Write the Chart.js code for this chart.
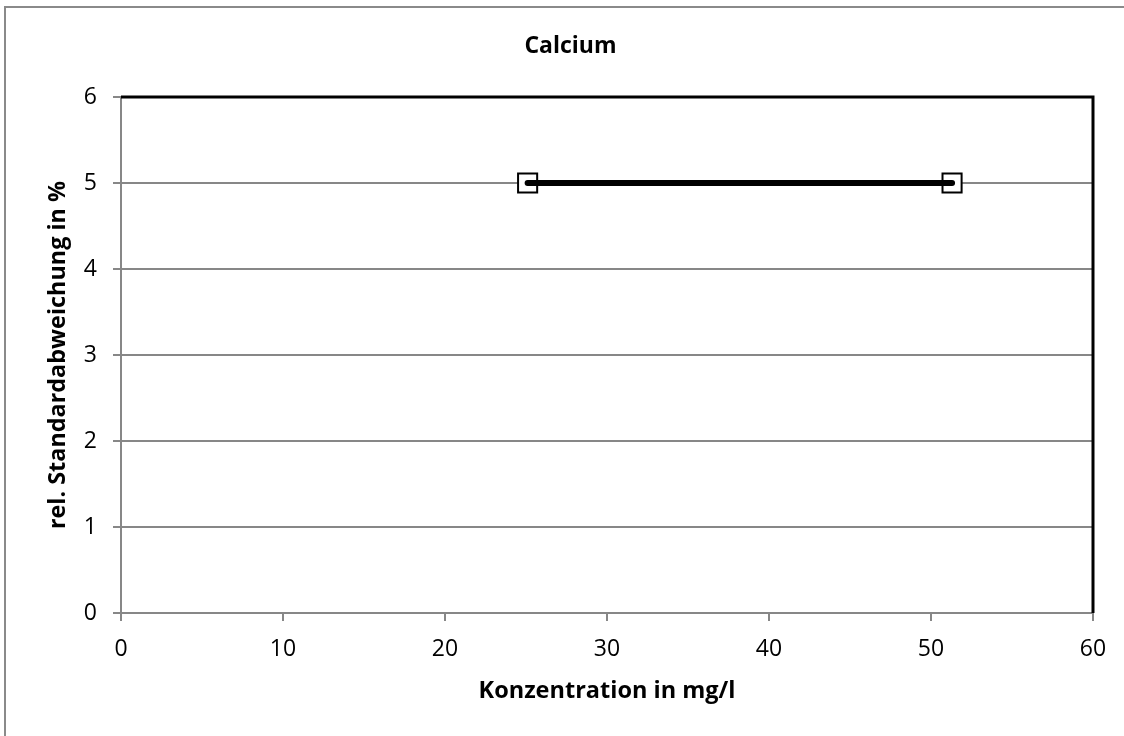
<!DOCTYPE html>
<html>
<head>
<meta charset="utf-8">
<script src="https://cdn.jsdelivr.net/npm/chart.js@4"></script>
<style>
  html, body { margin: 0; padding: 0; background: #fff; }
  #wrap { position: absolute; left: 0; top: 0; width: 1124px; height: 736px; }
</style>
</head>
<body>
<div id="wrap"><canvas id="myChart" width="1124" height="736"></canvas></div>
<script>
// Werte
const konzentration = [25.1, 51.3];
const rsd = [5, 5];
const xTicks = [0, 10, 20, 30, 40, 50, 60];
const yTicks = [0, 1, 2, 3, 4, 5, 6];

const punkte = konzentration.map((x, i) => ({ x: x, y: rsd[i] }));

const fontName = "'Open Sans', sans-serif";

// Rahmen: aussen grau, Diagrammfläche oben/rechts schwarz
const rahmen = {
  id: 'rahmen',
  beforeDraw(chart) {
    const c = chart.ctx;
    c.save();
    c.strokeStyle = '#8a8a8a';
    c.lineWidth = 2;
    c.strokeRect(5, 7, 1130, 740);
    c.restore();
  },
  beforeDatasetsDraw(chart) {
    const c = chart.ctx;
    const a = chart.chartArea;
    c.save();
    c.strokeStyle = '#000';
    c.lineWidth = 3;
    c.beginPath();
    c.moveTo(a.left, a.top);
    c.lineTo(a.right, a.top);
    c.lineTo(a.right, a.bottom);
    c.stroke();
    c.restore();
  }
};

const ctx = document.getElementById('myChart');

new Chart(ctx, {
  type: 'scatter',
  data: {
    datasets: [
      {
        label: 'Linie',
        data: punkte,
        showLine: true,
        borderColor: '#000',
        borderWidth: 6,
        borderCapStyle: 'round',
        pointRadius: 0,
        order: 0
      },
      {
        label: 'Punkte',
        data: punkte,
        showLine: false,
        pointStyle: 'rect',
        pointRadius: 13.5,
        pointBorderWidth: 2,
        pointBorderColor: '#000',
        pointBackgroundColor: '#fff',
        order: 1
      }
    ]
  },
  options: {
    responsive: false,
    animation: false,
    layout: { padding: { top: 0, right: 31, bottom: 0, left: 48 } },
    plugins: {
      legend: { display: false },
      tooltip: { enabled: false },
      title: {
        display: true,
        text: 'Calcium',
        color: '#000',
        font: { family: fontName, size: 23, weight: 'bold' },
        padding: { top: 33, bottom: 36.4 }
      }
    },
    scales: {
      x: {
        type: 'linear',
        min: 0,
        max: 60,
        afterFit(scale) { scale.height = 123; },
        afterBuildTicks(scale) { scale.ticks = xTicks.map(v => ({ value: v })); },
        grid: { display: true, drawOnChartArea: false, color: '#878787', lineWidth: 2, tickLength: 8 },
        border: { display: true, color: '#878787', width: 2 },
        ticks: { color: '#000', font: { family: fontName, size: 23 }, padding: 15, maxRotation: 0 },
        title: {
          display: true,
          text: 'Konzentration in mg/l',
          color: '#000',
          font: { family: fontName, size: 23.5, weight: 'bold' },
          padding: { top: 0, bottom: 31 }
        }
      },
      y: {
        type: 'linear',
        min: 0,
        max: 6,
        afterFit(scale) { scale.width = 73; },
        afterBuildTicks(scale) { scale.ticks = yTicks.map(v => ({ value: v })); },
        grid: { color: '#878787', lineWidth: 2, tickLength: 8 },
        border: { display: true, color: '#878787', width: 2 },
        ticks: { color: '#000', font: { family: fontName, size: 23 }, padding: 16 },
        title: {
          display: true,
          text: 'rel. Standardabweichung in %',
          color: '#000',
          font: { family: fontName, size: 23.4, weight: 'bold' },
          padding: { top: -4, bottom: 0 }
        }
      }
    }
  },
  plugins: [rahmen]
});
</script>
</body>
</html>
